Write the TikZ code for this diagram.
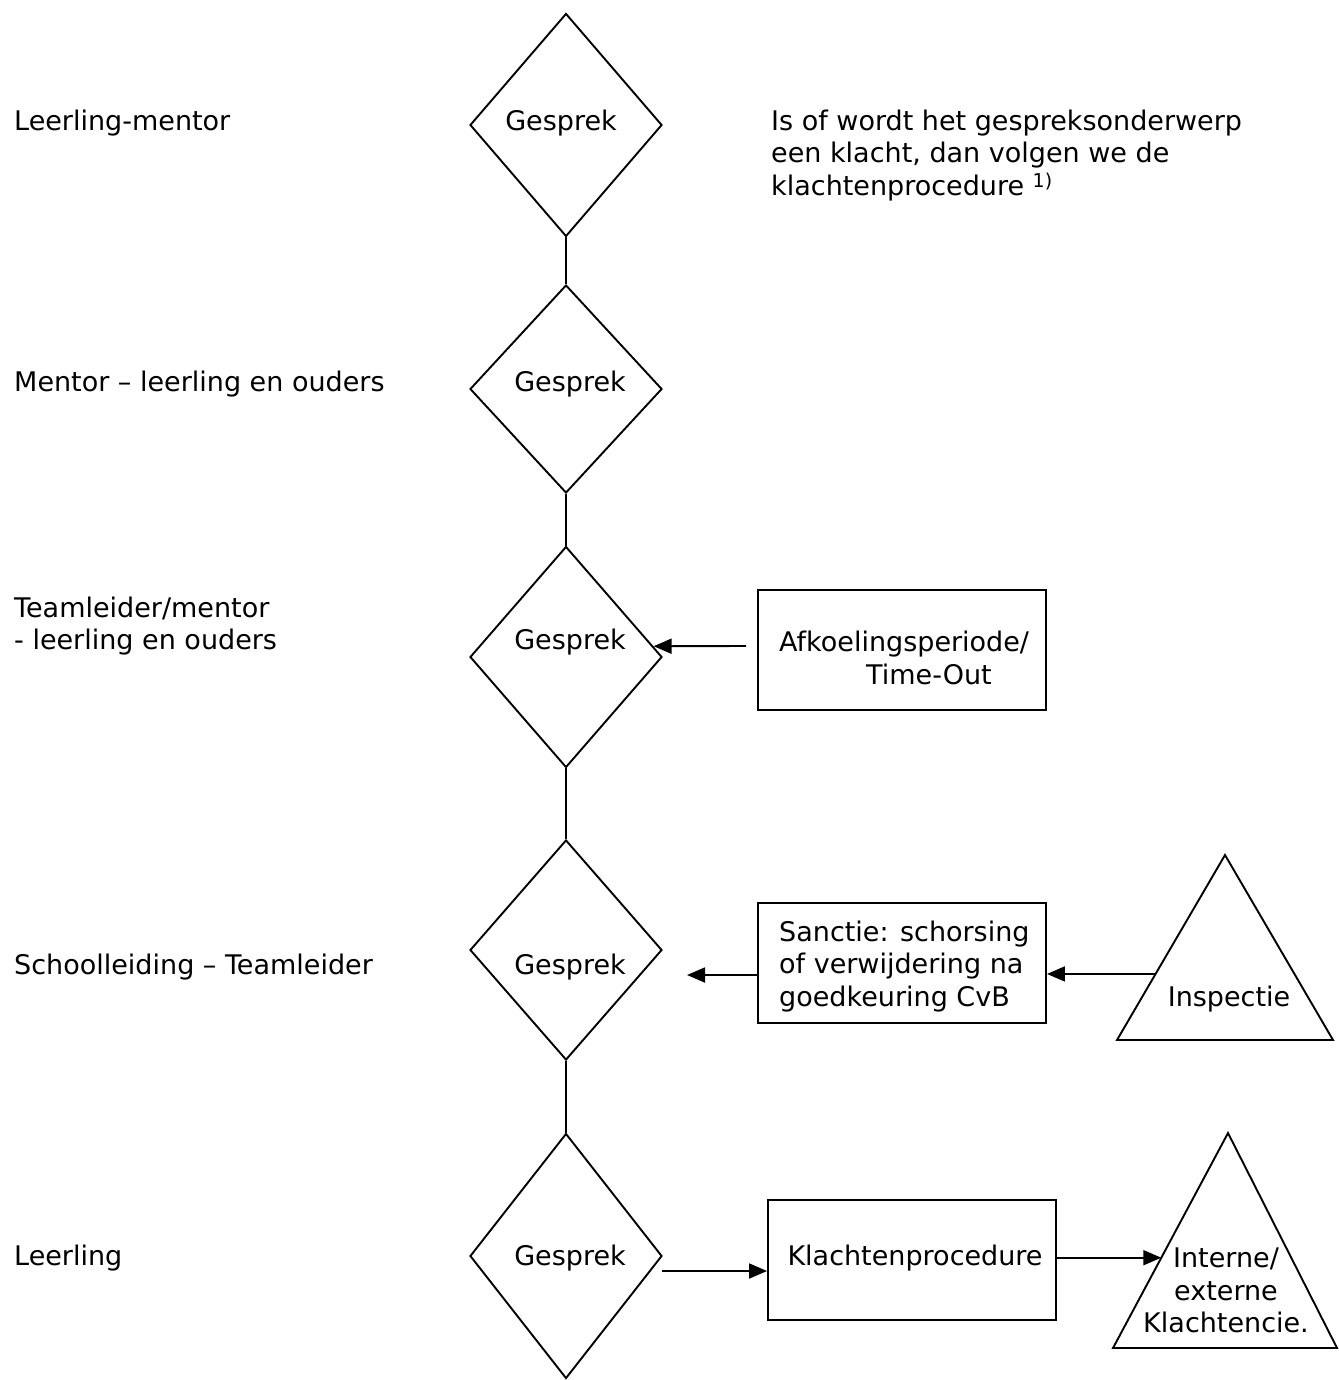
\documentclass[tikz,border=0pt]{standalone}
\usepackage{fontspec}
\setmainfont{DejaVu Sans}
\usetikzlibrary{shapes.geometric,arrows.meta,calc}
\begin{document}
\begin{tikzpicture}[x=1pt,y=-1pt,
 every node/.style={font=\fontsize{27}{32.5}\selectfont, inner sep=0pt},
 ln/.style={line width=1.9pt},
 arr/.style={line width=1.9pt,-{Triangle[length=18pt,width=15pt]}},
 gdiamond/.style={draw,line width=1.9pt,diamond,minimum width=192pt,minimum height=223pt},
 gbox/.style={draw,line width=1.9pt,minimum width=288pt,minimum height=120pt},
 lbl/.style={anchor=west,align=left}]
\useasboundingbox (0,0) rectangle (1338,1380);
% left labels
\node[lbl] (l1) at (14,123) {Leerling-mentor};
\node[lbl] (l2) at (14,384) {Mentor – leerling en ouders};
\node[lbl] (l3) at (14,626) {Teamleider/mentor\\- leerling en ouders};
\node[lbl] (l4) at (14,967) {Schoolleiding – Teamleider};
\node[lbl] (l5) at (14,1258) {Leerling};
% diamonds
\node[gdiamond] (d1) at (566,125) {};
\node[gdiamond,minimum height=208pt] (d2) at (566,389) {};
\node[gdiamond,minimum height=221pt] (d3) at (566,657) {};
\node[gdiamond,minimum height=220pt] (d4) at (566,950) {};
\node[gdiamond,minimum height=245pt] (d5) at (566,1256) {};
\node (g1) at (561,123) {Gesprek};
\node (g2) at (570,384) {Gesprek};
\node (g3) at (570,642) {Gesprek};
\node (g4) at (570,967) {Gesprek};
\node (g5) at (570,1258) {Gesprek};
\draw[ln] (d1.south) -- (d2.north);
\draw[ln] (d2.south) -- (d3.north);
\draw[ln] (d3.south) -- (d4.north);
\draw[ln] (d4.south) -- (d5.north);
% note
\node[lbl] (note) at (771,155.5) {Is of wordt het gespreksonderwerp\\een klacht, dan volgen we de\\klachtenprocedure {\fontsize{19}{19}\selectfont\raisebox{8pt}{1)}}};
% boxes
\node[gbox] (r1) at (902,650) {};
\node[lbl] (r1t) at (779,658) {Afkoelingsperiode/\\\hspace*{87pt}Time-Out};
\node[gbox] (r2) at (902,963) {};
\node[lbl] (r2t) at (779,966.5) {Sanctie: schorsing\\of verwijdering na\\goedkeuring CvB};
\node[gbox] (r3) at (912,1260) {};
\node (r3t) at (915,1258) {Klachtenprocedure};
% triangles
\coordinate (t1a) at (1225,855);
\coordinate (t1l) at (1117,1040);
\coordinate (t1r) at (1333,1040);
\draw[ln,line join=miter] (t1a) -- (t1l) -- (t1r) -- cycle;
\node (t1t) at (1229,999) {Inspectie};
\coordinate (t2a) at (1228,1133);
\coordinate (t2l) at (1113,1348);
\coordinate (t2r) at (1337,1348);
\draw[ln,line join=miter] (t2a) -- (t2l) -- (t2r) -- cycle;
\node[align=center] (t2t) at (1226,1290.5) {Interne/\\externe\\Klachtencie.};
% arrows
\coordinate (a1s) at (746,646);
\draw[arr] (a1s) -- (d3.7);
\coordinate (a2e) at (687,975);
\draw[arr] (r2.west |- a2e) -- (a2e);
\coordinate (a3s) at ($(t1l)!0.357!(t1a)$);
\draw[arr] (a3s) -- (r2.east |- a3s);
\coordinate (a4s) at (662,1271);
\draw[arr] (a4s) -- (r3.west |- a4s);
\coordinate (a5e) at ($(t2l)!0.42!(t2a)$);
\draw[arr] (r3.east |- a5e) -- (a5e);
\end{tikzpicture}
\end{document}
